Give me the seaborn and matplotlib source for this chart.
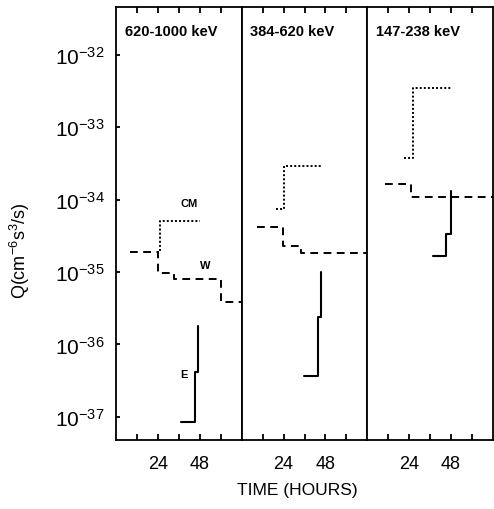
import numpy as np
import pandas as pd
import matplotlib
matplotlib.use('Agg')
import matplotlib.pyplot as plt
import seaborn as sns
from matplotlib.ticker import FixedLocator, LogFormatterMathtext, NullLocator

# Energy bands (one panel each)
bands = ['620-1000 keV', '384-620 keV', '147-238 keV']

# W curve (dashed): step start times (hours) and Q values
w_time_1 = [8, 24, 33, 60, 72]
w_q_1 = [1.9e-35, 9.8e-36, 8.1e-36, 3.9e-36, 3.9e-36]
w_time_2 = [8.7, 23.5, 34, 72]
w_q_2 = [4.2e-35, 2.3e-35, 1.85e-35, 1.85e-35]
w_time_3 = [10, 25, 72]
w_q_3 = [1.66e-34, 1.1e-34, 1.1e-34]

# CM curve (dotted)
cm_time_1 = [23.5, 25, 48]
cm_q_1 = [1.9e-35, 5.1e-35, 5.1e-35]
cm_time_2 = [19.5, 24.5, 46]
cm_q_2 = [7.4e-35, 2.9e-34, 2.9e-34]
cm_time_3 = [21, 26, 48.5]
cm_q_3 = [3.8e-34, 3.5e-33, 3.5e-33]

# E curve (solid)
e_time_1 = [37.5, 45.5, 47, 47]
e_q_1 = [8.5e-38, 4.2e-37, 1.8e-36, 1.8e-36]
e_time_2 = [35.8, 44, 45.6, 45.6]
e_q_2 = [3.7e-37, 2.4e-36, 1.0e-35, 1.0e-35]
e_time_3 = [37.5, 45, 48, 48]
e_q_3 = [1.66e-35, 3.4e-35, 1.3e-34, 1.3e-34]

tick_hours = [12, 24, 36, 48, 60]
tick_labels = ['', '24', '', '48', '']
decades = [1e-37, 1e-36, 1e-35, 1e-34, 1e-33, 1e-32]

w_series = [(w_time_1, w_q_1), (w_time_2, w_q_2), (w_time_3, w_q_3)]
cm_series = [(cm_time_1, cm_q_1), (cm_time_2, cm_q_2), (cm_time_3, cm_q_3)]
e_series = [(e_time_1, e_q_1), (e_time_2, e_q_2), (e_time_3, e_q_3)]

sns.set_style('ticks')
plt.rcParams['font.family'] = ['Liberation Sans', 'DejaVu Sans']
plt.rcParams['mathtext.fontset'] = 'custom'
plt.rcParams['mathtext.rm'] = 'Liberation Sans'
plt.rcParams['mathtext.it'] = 'Liberation Sans'
plt.rcParams['text.color'] = 'black'
plt.rcParams['xtick.color'] = 'black'
plt.rcParams['ytick.color'] = 'black'
plt.rcParams['xtick.labelcolor'] = 'black'
plt.rcParams['ytick.labelcolor'] = 'black'

fig, axes = plt.subplots(1, 3, figsize=(4.94, 5.10), dpi=100, sharey=True)
fig.subplots_adjust(left=116 / 494, right=493 / 494, bottom=1 - 441 / 510,
                    top=1 - 8 / 510, wspace=0)

styles = {
    'W': dict(linestyle=(0, (4, 2.8)), linewidth=1.4),
    'CM': dict(linestyle=(0, (1, 1.1)), linewidth=1.4),
    'E': dict(linestyle='-', linewidth=1.5),
}

for i, ax in enumerate(axes):
    for name, series in [('W', w_series), ('CM', cm_series), ('E', e_series)]:
        t, q = series[i]
        df = pd.DataFrame({'t': t, 'q': q})
        sns.lineplot(data=df, x='t', y='q', ax=ax, color='black',
                     estimator=None, sort=False, errorbar=None,
                     drawstyle='steps-post', **styles[name])
    ax.set_yscale('log')
    ax.set_xlim(0, 72)
    ax.set_ylim(10 ** -37.32, 10 ** -31.34)
    ax.xaxis.set_major_locator(FixedLocator(tick_hours))
    ax.set_xticklabels(tick_labels)
    ax.set_xlabel('')
    ax.set_ylabel('')
    # matplotlib's inward x ticks vanish on this frame, so draw the inward
    # marks as short lines at the tick positions instead
    ax.tick_params(axis='x', which='major', length=0, labelsize=13, pad=11)
    xtr = ax.get_xaxis_transform()
    ax.vlines(tick_hours, 0, 0.015, transform=xtr, color='black', lw=1.3, clip_on=False)
    ax.vlines(tick_hours, 0.985, 1, transform=xtr, color='black', lw=1.3, clip_on=False)
    ax.yaxis.set_minor_locator(NullLocator())
    ax.text(0.07, 0.945, bands[i], transform=ax.transAxes,
            fontweight='bold', fontsize=10.5, va='center', ha='left')
    for side in ax.spines.values():
        side.set_linewidth(1.3)
        side.set_color('black')

axes[0].yaxis.set_major_locator(FixedLocator(decades))
axes[0].yaxis.set_major_formatter(LogFormatterMathtext())
axes[0].tick_params(axis='y', which='major', length=0, labelsize=15, pad=8)
axes[0].hlines(decades, 0, 0.035, transform=axes[0].get_yaxis_transform(),
               color='black', lw=1.3, clip_on=False)
for ax in axes[1:]:
    ax.tick_params(axis='y', which='both', left=False, labelleft=False)

# curve labels in the first panel
axes[0].text(42, 9.1e-35, 'CM', fontsize=8, fontweight='bold', ha='center', va='center')
axes[0].text(51, 1.26e-35, 'W', fontsize=8, fontweight='bold', ha='center', va='center')
axes[0].text(38.7, 3.9e-37, 'E', fontsize=8, fontweight='bold', ha='center', va='center')

fig.text(297 / 494, 1 - 491 / 510, 'TIME (HOURS)', fontsize=12.5,
         ha='center', va='center')
fig.text(20 / 494, 1 - 251 / 510, r'Q(cm$^{-6}$s$^{3}$/s)', fontsize=13,
         rotation=90, ha='center', va='center')

fig.savefig('out.png', dpi=100)
